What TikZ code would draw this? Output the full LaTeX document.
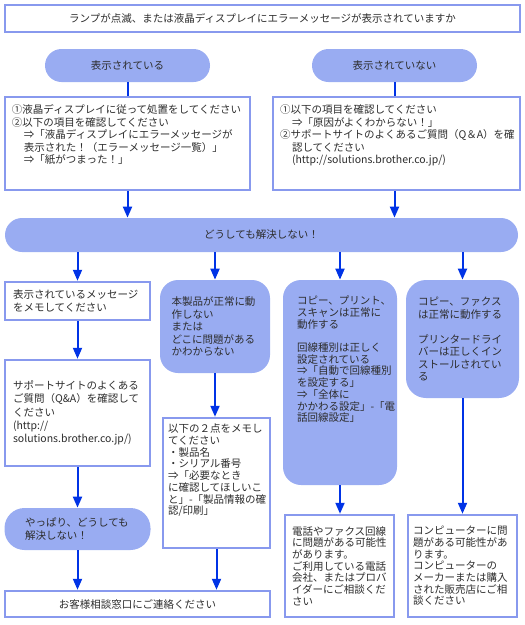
\documentclass[tikz,border=0pt]{standalone}
\usepackage{fontspec}
\setmainfont{Noto Sans CJK JP}
\usetikzlibrary{arrows.meta}

\definecolor{pillfill}{RGB}{153,172,242}
\definecolor{boxdraw}{RGB}{136,153,238}
\definecolor{arrowblue}{RGB}{0,51,230}
\definecolor{textgray}{RGB}{45,45,45}

\newcommand{\toptext}[3]{\parbox[c][#1][t]{#2}{\raggedright #3}}

\tikzset{every picture/.style={line width=0.75pt}}
\tikzset{
  box/.style={draw=boxdraw, line width=2.5pt, fill=white, inner sep=0pt, text=textgray, font=\fontsize{10.5}{12.5}\selectfont},
  pill/.style={fill=pillfill, inner sep=0pt, text=textgray, font=\fontsize{10.5}{12.5}\selectfont},
  flow/.style={draw=arrowblue, line width=2pt, -{Triangle[width=9pt,length=11pt]}},
  link/.style={draw=arrowblue, line width=2pt},
}

\begin{document}
\begin{tikzpicture}[x=1pt,y=1pt,yscale=-1,xscale=1]
	\useasboundingbox (0,0) rectangle (525,625);

	%Shape: Rectangle (question)
	\node[box, minimum width=515, minimum height=27] (ask) at (262.5,18.5) {ランプが点滅、または液晶ディスプレイにエラーメッセージが表示されていますか};
	%Shape: Rounded Rect (answers)
	\node[pill, rounded corners=16.5pt, minimum width=165, minimum height=33] (shown) at (127.5,65.5) {表示されている};
	\node[pill, rounded corners=16.5pt, minimum width=165, minimum height=33] (notshown) at (394.5,65.5) {表示されていない};

	%Shape: Rectangle (checks)
	\node[box, minimum width=245, minimum height=93] (shownchk) at (127.5,143.5) {\toptext{77pt}{231pt}{①液晶ディスプレイに従って処置をしてください\\②以下の項目を確認してください\\\hspace*{12pt}⇒「液晶ディスプレイにエラーメッセージが\\\hspace*{12pt}表示された！（エラーメッセージ一覧）」\\\hspace*{12pt}⇒「紙がつまった！」}};
	\node[box, minimum width=247, minimum height=93] (notchk) at (396.5,143.5) {\toptext{77pt}{233pt}{①以下の項目を確認してください\\\hspace*{12pt}⇒「原因がよくわからない！」\\②サポートサイトのよくあるご質問（Q＆A）を確\\\hspace*{12pt}認してください\\\hspace*{12pt}(http://solutions.brother.co.jp/)}};

	%Shape: Rounded Rect (still not solved)
	\node[pill, rounded corners=17pt, minimum width=513, minimum height=34] (stuck) at (261.5,235) {どうしても解決しない！};

	%Column 1
	\node[box, minimum width=145, minimum height=38, text width=129pt, align=left, font=\fontsize{10.5}{13.3}\selectfont] (memo) at (77.5,301) {表示されているメッセージ\\をメモしてください};
	\node[box, minimum width=145, minimum height=106, text width=129pt, align=left, font=\fontsize{10.5}{13.3}\selectfont] (faq) at (77.5,413) {サポートサイトのよくある\\ご質問（Q\&A）を確認して\\ください\\(http://\\solutions.brother.co.jp/)};
	\node[pill, rounded corners=20pt, minimum width=146, minimum height=42, text width=105pt, align=left, font=\fontsize{10.5}{13.3}\selectfont] (still) at (77.5,529) {やっぱり、どうしても\\解決しない！};
	\node[box, minimum width=265, minimum height=26] (contact) at (137.5,604) {お客様相談窓口にご連絡ください};

	%Column 2
	\node[pill, rounded corners=18pt, minimum width=110, minimum height=93, text width=87pt, align=left] (fault) at (215,326.5) {本製品が正常に動\\作しない\\または\\どこに問題がある\\かわからない};
	\node[box, minimum width=107, minimum height=130, font=\fontsize{10.5}{11.7}\selectfont] (note) at (216.5,483) {\toptext{118pt}{97pt}{以下の２点をメモし\\てください\\・製品名\\・シリアル番号\\⇒「必要なとき\\に確認してほしいこ\\\mbox{と」-「製品情報の確}\\認/印刷」}};

	%Column 3
	\node[pill, rounded corners=18pt, minimum width=114, minimum height=205, font=\fontsize{10.5}{11.7}\selectfont] (line) at (340,382.5) {\toptext{173pt}{86pt}{コピー、プリント、\\スキャンは正常に\\動作する\\[11.7pt]回線種別は正しく\\設定されている\\⇒「自動で回線種別\\を設定する」\\⇒「全体に\\\mbox{かかわる設定」-「電}\\話回線設定」}};
	\node[box, minimum width=109, minimum height=102, text width=95pt, align=left, font=\fontsize{10.5}{11.7}\selectfont] (telco) at (339.5,566) {電話やファクス回線\\に問題がある可能性\\があります。\\ご利用している電話\\会社、またはプロバ\\イダーにご相談くだ\\さい};

	%Column 4
	\node[pill, rounded corners=20pt, minimum width=113, minimum height=118, text width=89pt, align=left] (pc) at (462.5,339) {コピー、ファクス\\は正常に動作する\\[12.5pt]プリンタードライ\\バーは正しくイン\\ストールされてい\\る};
	\node[box, minimum width=109, minimum height=102, text width=99pt, align=left, font=\fontsize{10.5}{11.7}\selectfont] (pcmaker) at (462.5,566) {コンピューターに問\\題がある可能性があ\\ります。\\コンピューターの\\メーカーまたは購入\\された販売店にご相\\談ください};

	%Straight Lines
	\draw[link] (shown) -- (shownchk);
	\draw[link] (notshown.south) -- (notshown.south |- notchk.north);
	\draw[flow] (shownchk.south) -- (shownchk.south |- stuck.north);
	\draw[flow] (notchk.south -| notshown) -- (notshown |- stuck.north);
	\draw[flow] (stuck.south -| memo) -- (memo);
	\draw[flow] (stuck.south -| fault) -- (fault);
	\draw[flow] (stuck.south -| line) -- (line);
	\draw[flow] (stuck.south -| pc) -- (pc);
	\draw[flow] (memo) -- (faq);
	\draw[flow] (faq) -- (still);
	\draw[flow] (still) -- (still |- contact.north);
	\draw[flow] (fault.south) -- (fault.south |- note.north);
	\draw[flow] (note.south) -- (note.south |- contact.north);
	\draw[flow] (line.south) -- (line.south |- telco.north);
	\draw[flow] (pc.south) -- (pc.south |- pcmaker.north);

\end{tikzpicture}
\end{document}
